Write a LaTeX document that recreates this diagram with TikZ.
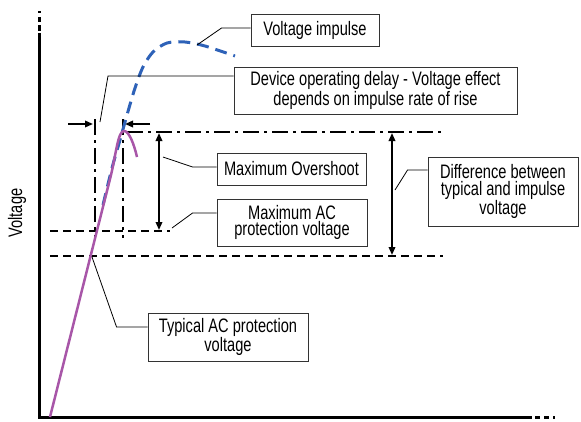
\documentclass[tikz,border=0pt]{standalone}
\usepackage{fontspec}
\setmainfont{Liberation Sans}[FakeStretch=0.75]
\usetikzlibrary{arrows.meta}
\definecolor{impulseblue}{RGB}{46,98,184}
\definecolor{curvepurple}{RGB}{168,86,168}
\begin{document}
\begin{tikzpicture}[x=1pt,y=-1pt,>={Triangle[length=8pt,width=6.5pt]}]
\tikzstyle{every node}=[font=\fontsize{19.5}{16.5}\selectfont]
\tikzstyle{labelbox}=[draw=black!80,line width=0.9pt,align=center,inner sep=0pt]
\tikzstyle{leader}=[line width=0.8pt]
\tikzstyle{leveldashed}=[line width=2pt,dash pattern=on 8pt off 5pt]
\tikzstyle{leveldashdot}=[line width=2pt,dash pattern=on 16pt off 5pt on 3pt off 5pt]
\tikzstyle{dimarrow}=[line width=1.8pt]

\useasboundingbox (0,0) rectangle (581,421);

% draw axes
\coordinate (O) at (39,417);
\draw[line width=3pt] (39,33) -- (O) -- (532,417);
% dotted ends of the axes
\foreach \a/\b in {11/13,17/22,25/31}
	\draw[line width=3pt] (39,\a) -- (39,\b);
\foreach \a/\b in {535/540,544/549,553/555}
	\draw[line width=3pt] (\a,417) -- (\b,417);
\node[rotate=90] (ylabel) at (17,213) {Voltage};

% voltage levels
\coordinate (peak) at (123,132);
\draw[leveldashdot] (127,132) -- (445,132);
\draw[leveldashed] (50,231) -- (170,231);
\draw[leveldashed] (50,256) -- (443,256);
\draw[leveldashdot] (95,119) -- (95,238);
\draw[leveldashdot] (123,119) -- (123,238);

% delay and difference arrows
\coordinate (delayL) at (93,124);
\coordinate (delayR) at (125,124);
\draw[->,dimarrow] (68,124) -- (delayL);
\draw[->,dimarrow] (150,124) -- (delayR);
\coordinate (ostop) at (159,133);
\coordinate (osbot) at (159,230);
\draw[<->,dimarrow] (ostop) -- (osbot);
\coordinate (difftop) at (392,133);
\coordinate (diffbot) at (392,255);
\draw[<->,dimarrow] (difftop) -- (diffbot);

% plot curves
\draw[impulseblue,line width=3pt,dash pattern=on 12pt off 7pt] plot[smooth] coordinates
	{(103,205) (112,168) (120,140) (127,115) (135,88) (143,67) (153,52) (167,43) (185,42) (205,46) (235,56)};
\draw[curvepurple,line width=2.5pt] (50,417) -- (111,175)
	.. controls (116,154) and (118,131) .. (124,131)
	.. controls (129,131) and (134,144) .. (137,157);

% labels
\node[labelbox,minimum width=128pt,minimum height=32pt] (impulse) at (315,30) {Voltage impulse};
\node[labelbox,minimum width=283pt,minimum height=47pt] (delay) at (375.5,90.5)
	{Device operating delay - Voltage effect\\depends on impulse rate of rise};
\node[labelbox,minimum width=149pt,minimum height=32pt] (overshoot) at (291.5,169) {Maximum Overshoot};
\node[labelbox,minimum width=150pt,minimum height=47pt] (maxac) at (292,222.5)
	{Maximum AC\\protection voltage};
\node[labelbox,minimum width=150pt,minimum height=69pt] (diff) at (503,191.5)
	{Difference between\\typical and impulse\\voltage};
\node[labelbox,minimum width=160pt,minimum height=48pt] (typical) at (228,337)
	{Typical AC protection\\voltage};

% leader lines
\coordinate (impulsetip) at (197,45);
\coordinate (delaytip) at (100,122);
\coordinate (overshoottip) at (163,157);
\coordinate (maxactip) at (172,228);
\coordinate (difftip) at (395,190);
\coordinate (typicaltip) at (92,257);
\draw[leader] ([yshift=2pt]impulse.west) -- ++(-29,0) -- (impulsetip);
\draw[leader] ([yshift=14.5pt]delay.west) -- (108,76) -- (delaytip);
\draw[leader] ([yshift=2pt]overshoot.west) -- ++(-24,0) -- (overshoottip);
\draw[leader] ([yshift=9.5pt]maxac.west) -- ++(-24,0) -- (maxactip);
\draw[leader] ([yshift=21.5pt]diff.west) -- ++(-20,0) -- (difftip);
\draw[leader] ([yshift=10pt]typical.west) -- ++(-31,0) -- (typicaltip);

\end{tikzpicture}
\end{document}
